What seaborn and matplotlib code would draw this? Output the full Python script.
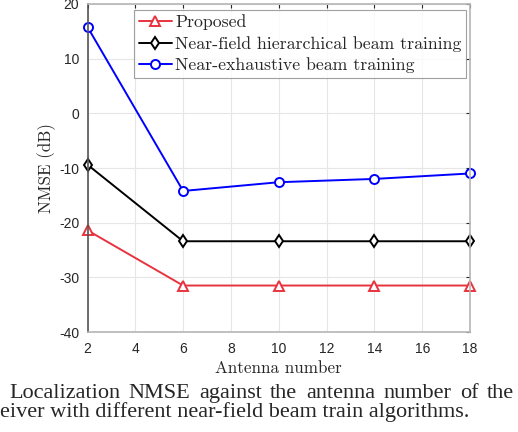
import matplotlib
matplotlib.use("Agg")
from matplotlib import pyplot as plt
import pandas as pd
import seaborn as sns

# Values
antenna_number = [2, 6, 10, 14, 18]
proposed = [-21.4, -31.5, -31.5, -31.5, -31.5]
hierarchical = [-9.4, -23.4, -23.4, -23.4, -23.4]
exhaustive = [15.8, -14.2, -12.6, -12.0, -11.0]

series_names = [
    "Proposed",
    "Near-field hierarchical beam training",
    "Near-exhaustive beam training",
]
x_ticks = [2, 4, 6, 8, 10, 12, 14, 16, 18]
y_ticks = [-40, -30, -20, -10, 0, 10, 20]

caption_lines = [
    "Localization NMSE against the antenna number of the",
    "eiver with different near-field beam train algorithms.",
]

data = pd.DataFrame({
    "antenna": antenna_number * 3,
    "nmse": proposed + hierarchical + exhaustive,
    "method": [series_names[0]] * 5 + [series_names[1]] * 5 + [series_names[2]] * 5,
})

sns.set_style("white")
plt.rcParams["axes.unicode_minus"] = False
plt.rcParams["font.family"] = ["Liberation Sans", "DejaVu Sans"]

W, H = 518, 432
fig = plt.figure(figsize=(W / 100, H / 100), dpi=100)
ax = fig.add_axes([87.5 / W, 1 - 332 / H, (470 - 87.5) / W, (332 - 4) / H])

palette = {series_names[0]: "#e8333f", series_names[1]: "black", series_names[2]: "#0000ff"}
markers = {series_names[0]: "^", series_names[1]: "d", series_names[2]: "o"}

sns.lineplot(
    data=data,
    x="antenna",
    y="nmse",
    hue="method",
    style="method",
    markers=markers,
    dashes=False,
    palette=palette,
    linewidth=1.4,
    markersize=6.5,
    markeredgewidth=1.4,
    ax=ax,
)
for line in ax.lines:
    line.set_markeredgecolor(line.get_color())
    line.set_markerfacecolor("white")
    line.set_clip_on(False)

ax.set_xlim(2, 18)
ax.set_ylim(-40, 20)
ax.set_xticks(x_ticks)
ax.set_yticks(y_ticks)
ax.tick_params(direction="in", length=3, top=True, right=True, labelsize=10,
               colors="#262626", pad=6)
ax.tick_params(axis="x", pad=7)
ax.grid(True, color="#e6e6e6", linewidth=0.8)
for side, spine in ax.spines.items():
    spine.set_color("#b5b5b5" if side != "left" else "#555555")
    spine.set_linewidth(1.2)

ax.set_xlabel("Antenna number", family="cmr10", fontsize=12.3, color="#262626", labelpad=3.5)
ax.set_ylabel("NMSE (dB)", family="cmr10", fontsize=12.3, color="#262626", labelpad=2)

handles, labels = ax.get_legend_handles_labels()
for h in handles:
    h.set_markeredgecolor(h.get_color())
    h.set_markerfacecolor("white")
leg = ax.legend(
    handles, labels,
    loc="upper right",
    bbox_to_anchor=((466 - 87.5) / (470 - 87.5), (332 - 10) / 328),
    prop={"family": "cmr10", "size": 12.8},
    frameon=True,
    fancybox=False,
    edgecolor="#888888",
    borderpad=0.25,
    labelspacing=0.32,
    handlelength=1.85,
    handletextpad=0.2,
    borderaxespad=0,
)
leg.get_frame().set_linewidth(0.8)

# caption: first line justified between x=9 and x=514, second line left aligned
renderer = fig.canvas.get_renderer()
cap_font = dict(family="Liberation Serif", fontsize=16, va="baseline", ha="left")
words = caption_lines[0].split()
word_texts = [fig.text(0, 1 - 398 / H, w, **cap_font) for w in words]
widths = [t.get_window_extent(renderer).width for t in word_texts]
gap = (514 - 9 - sum(widths)) / (len(words) - 1)
x = 9
for t, w in zip(word_texts, widths):
    t.set_x(x / W)
    x += w + gap
fig.text(0.0, 1 - 417 / H, caption_lines[1], **cap_font)

fig.savefig("out.png", dpi=100)
